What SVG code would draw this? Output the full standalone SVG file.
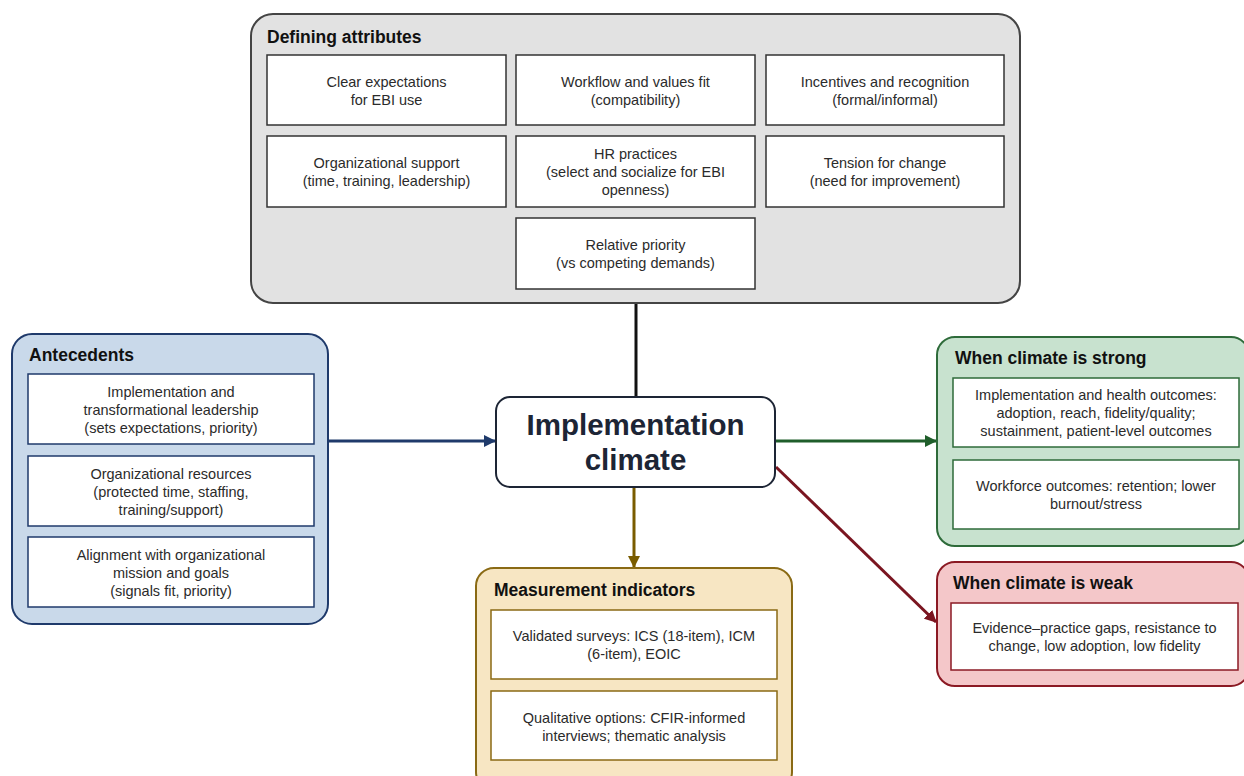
<svg xmlns="http://www.w3.org/2000/svg" width="1244" height="776" viewBox="0 0 1244 776">
<style>
.t{font-family:"Liberation Sans",Arial,sans-serif;font-size:14.5px;fill:#2b2b2b;text-anchor:middle}
.h{font-family:"Liberation Sans",Arial,sans-serif;font-size:17.5px;font-weight:bold;fill:#111}
.box{fill:#fff;stroke-width:1.5}
</style>
<defs>
<marker id="mN" markerWidth="12" markerHeight="12" refX="11" refY="6" orient="auto" markerUnits="userSpaceOnUse"><path d="M0,0 L12,6 L0,12 z" fill="#1f3a6b"/></marker>
<marker id="mG" markerWidth="12" markerHeight="12" refX="11" refY="6" orient="auto" markerUnits="userSpaceOnUse"><path d="M0,0 L12,6 L0,12 z" fill="#1f5e2b"/></marker>
<marker id="mR" markerWidth="12" markerHeight="12" refX="11" refY="6" orient="auto" markerUnits="userSpaceOnUse"><path d="M0,0 L12,6 L0,12 z" fill="#7a1520"/></marker>
<marker id="mY" markerWidth="12" markerHeight="12" refX="11" refY="6" orient="auto" markerUnits="userSpaceOnUse"><path d="M0,0 L12,6 L0,12 z" fill="#7a5c00"/></marker>
</defs>

<g id="connectors" fill="none" stroke-width="3">
<line x1="636" y1="303" x2="636" y2="397" stroke="#111"/>
<line x1="328" y1="441" x2="495" y2="441" stroke="#1f3a6b" marker-end="url(#mN)"/>
<line x1="776" y1="441" x2="936" y2="441" stroke="#1f5e2b" marker-end="url(#mG)"/>
<line x1="776" y1="467" x2="936" y2="622" stroke="#7a1520" marker-end="url(#mR)"/>
<line x1="634" y1="488" x2="634" y2="567" stroke="#7a5c00" marker-end="url(#mY)"/>
</g>

<g id="defining-attributes">
<rect x="251" y="14" width="769" height="289" rx="22" fill="#e2e2e2" stroke="#444" stroke-width="2"/>
<text class="h" x="267" y="43">Defining attributes</text>
<rect class="box" x="267" y="55" width="239" height="70" stroke="#333"/>
<text class="t" x="386.5" y="87">Clear expectations</text><text class="t" x="386.5" y="105">for EBI use</text>
<rect class="box" x="516" y="55" width="239" height="70" stroke="#333"/>
<text class="t" x="635.5" y="87">Workflow and values fit</text><text class="t" x="635.5" y="105">(compatibility)</text>
<rect class="box" x="766" y="55" width="238" height="70" stroke="#333"/>
<text class="t" x="885" y="87">Incentives and recognition</text><text class="t" x="885" y="105">(formal/informal)</text>
<rect class="box" x="267" y="136" width="239" height="71" stroke="#333"/>
<text class="t" x="386.5" y="168">Organizational support</text><text class="t" x="386.5" y="186">(time, training, leadership)</text>
<rect class="box" x="516" y="136" width="239" height="71" stroke="#333"/>
<text class="t" x="635.5" y="159">HR practices</text><text class="t" x="635.5" y="177">(select and socialize for EBI</text><text class="t" x="635.5" y="195">openness)</text>
<rect class="box" x="766" y="136" width="238" height="71" stroke="#333"/>
<text class="t" x="885" y="168">Tension for change</text><text class="t" x="885" y="186">(need for improvement)</text>
<rect class="box" x="516" y="218" width="239" height="71" stroke="#333"/>
<text class="t" x="635.5" y="250">Relative priority</text><text class="t" x="635.5" y="268">(vs competing demands)</text>
</g>

<g id="antecedents">
<rect x="12" y="334" width="316" height="290" rx="20" fill="#c9d9ea" stroke="#1f3a6b" stroke-width="2"/>
<text class="h" x="29" y="361">Antecedents</text>
<rect class="box" x="28" y="374" width="286" height="70" stroke="#1f3a6b"/>
<text class="t" x="171" y="397">Implementation and</text><text class="t" x="171" y="415">transformational leadership</text><text class="t" x="171" y="433">(sets expectations, priority)</text>
<rect class="box" x="28" y="456" width="286" height="70" stroke="#1f3a6b"/>
<text class="t" x="171" y="479">Organizational resources</text><text class="t" x="171" y="497">(protected time, staffing,</text><text class="t" x="171" y="515">training/support)</text>
<rect class="box" x="28" y="537" width="286" height="70" stroke="#1f3a6b"/>
<text class="t" x="171" y="560">Alignment with organizational</text><text class="t" x="171" y="578">mission and goals</text><text class="t" x="171" y="596">(signals fit, priority)</text>
</g>

<g id="implementation-climate">
<rect x="496" y="397" width="279" height="90" rx="14" fill="#fff" stroke="#1d2535" stroke-width="2"/>
<text x="635.5" y="435" text-anchor="middle" font-family="Liberation Sans,Arial,sans-serif" font-size="29.5" font-weight="bold" fill="#1d2535">Implementation</text>
<text x="635.5" y="470" text-anchor="middle" font-family="Liberation Sans,Arial,sans-serif" font-size="29.5" font-weight="bold" fill="#1d2535">climate</text>
</g>

<g id="climate-strong">
<rect x="937" y="337" width="312" height="209" rx="18" fill="#c8e2cf" stroke="#2e6b3a" stroke-width="2"/>
<text class="h" x="955" y="364">When climate is strong</text>
<rect class="box" x="953" y="378" width="286" height="69" stroke="#2e6b3a"/>
<text class="t" x="1096" y="400">Implementation and health outcomes:</text><text class="t" x="1096" y="418">adoption, reach, fidelity/quality;</text><text class="t" x="1096" y="436">sustainment, patient-level outcomes</text>
<rect class="box" x="953" y="460" width="286" height="69" stroke="#2e6b3a"/>
<text class="t" x="1096" y="491">Workforce outcomes: retention; lower</text><text class="t" x="1096" y="509">burnout/stress</text>
</g>

<g id="climate-weak">
<rect x="937" y="562" width="312" height="124" rx="18" fill="#f4c7c9" stroke="#8b1a24" stroke-width="2"/>
<text class="h" x="953" y="589">When climate is weak</text>
<rect class="box" x="951" y="603" width="287" height="67" stroke="#8b1a24"/>
<text class="t" x="1094.5" y="633">Evidence–practice gaps, resistance to</text><text class="t" x="1094.5" y="651">change, low adoption, low fidelity</text>
</g>

<g id="measurement-indicators">
<rect x="476" y="568" width="316" height="222" rx="18" fill="#f7e6c3" stroke="#8a6a14" stroke-width="2"/>
<text class="h" x="494" y="596">Measurement indicators</text>
<rect class="box" x="491" y="610" width="286" height="69" stroke="#8a6a14"/>
<text class="t" x="634" y="641">Validated surveys: ICS (18-item), ICM</text><text class="t" x="634" y="659">(6-item), EOIC</text>
<rect class="box" x="491" y="691" width="286" height="69" stroke="#8a6a14"/>
<text class="t" x="634" y="723">Qualitative options: CFIR-informed</text><text class="t" x="634" y="741">interviews; thematic analysis</text>
</g>
</svg>
